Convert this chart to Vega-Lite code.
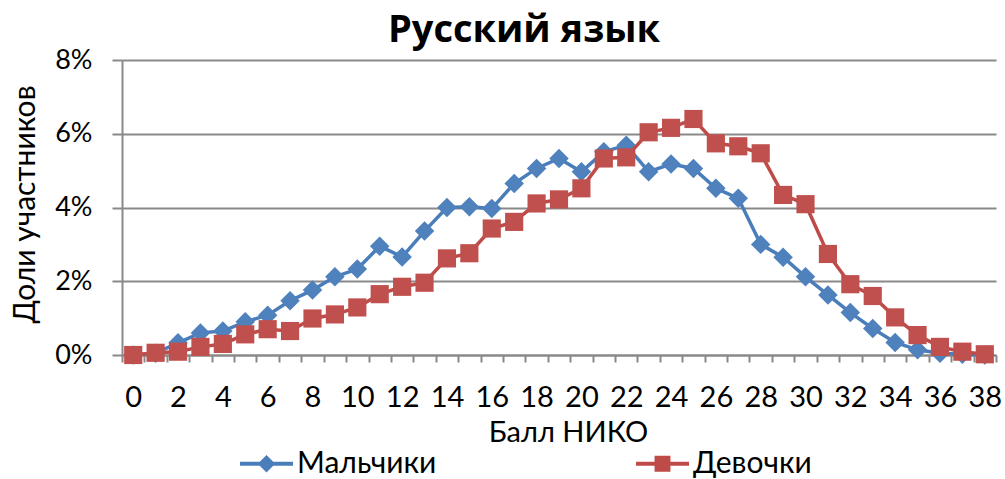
{
  "$schema": "https://vega.github.io/schema/vega-lite/v6.json",
  "width": 874,
  "height": 295,
  "autosize": "none",
  "padding": {"left": 122, "top": 60, "right": 9, "bottom": 124},
  "background": "white",
  "config": {
    "font": "Lato",
    "view": {"stroke": null}
  },
  "title": {
    "text": "Русский язык",
    "font": "Open Sans",
    "fontSize": 38,
    "fontWeight": "bold",
    "color": "black",
    "anchor": "middle",
    "frame": "group",
    "dx": -35,
    "dy": 39,
    "baseline": "alphabetic",
    "offset": 5
  },
  "datasets": {
    "main": [
      {"score": 0, "group": "Мальчики", "value": 0},
      {"score": 1, "group": "Мальчики", "value": 0.05},
      {"score": 2, "group": "Мальчики", "value": 0.33},
      {"score": 3, "group": "Мальчики", "value": 0.6},
      {"score": 4, "group": "Мальчики", "value": 0.65},
      {"score": 5, "group": "Мальчики", "value": 0.9},
      {"score": 6, "group": "Мальчики", "value": 1.08},
      {"score": 7, "group": "Мальчики", "value": 1.47},
      {"score": 8, "group": "Мальчики", "value": 1.76},
      {"score": 9, "group": "Мальчики", "value": 2.12},
      {"score": 10, "group": "Мальчики", "value": 2.33},
      {"score": 11, "group": "Мальчики", "value": 2.95},
      {"score": 12, "group": "Мальчики", "value": 2.66},
      {"score": 13, "group": "Мальчики", "value": 3.36},
      {"score": 14, "group": "Мальчики", "value": 4.0},
      {"score": 15, "group": "Мальчики", "value": 4.02},
      {"score": 16, "group": "Мальчики", "value": 3.97},
      {"score": 17, "group": "Мальчики", "value": 4.65},
      {"score": 18, "group": "Мальчики", "value": 5.06},
      {"score": 19, "group": "Мальчики", "value": 5.33},
      {"score": 20, "group": "Мальчики", "value": 4.97},
      {"score": 21, "group": "Мальчики", "value": 5.51},
      {"score": 22, "group": "Мальчики", "value": 5.69},
      {"score": 23, "group": "Мальчики", "value": 4.97},
      {"score": 24, "group": "Мальчики", "value": 5.18},
      {"score": 25, "group": "Мальчики", "value": 5.06},
      {"score": 26, "group": "Мальчики", "value": 4.52},
      {"score": 27, "group": "Мальчики", "value": 4.25},
      {"score": 28, "group": "Мальчики", "value": 3.0},
      {"score": 29, "group": "Мальчики", "value": 2.65},
      {"score": 30, "group": "Мальчики", "value": 2.12},
      {"score": 31, "group": "Мальчики", "value": 1.63},
      {"score": 32, "group": "Мальчики", "value": 1.15},
      {"score": 33, "group": "Мальчики", "value": 0.72},
      {"score": 34, "group": "Мальчики", "value": 0.34},
      {"score": 35, "group": "Мальчики", "value": 0.14},
      {"score": 36, "group": "Мальчики", "value": 0.05},
      {"score": 37, "group": "Мальчики", "value": 0.02},
      {"score": 38, "group": "Мальчики", "value": 0},
      {"score": 0, "group": "Девочки", "value": 0},
      {"score": 1, "group": "Девочки", "value": 0.06},
      {"score": 2, "group": "Девочки", "value": 0.09},
      {"score": 3, "group": "Девочки", "value": 0.22},
      {"score": 4, "group": "Девочки", "value": 0.3},
      {"score": 5, "group": "Девочки", "value": 0.56},
      {"score": 6, "group": "Девочки", "value": 0.7},
      {"score": 7, "group": "Девочки", "value": 0.65},
      {"score": 8, "group": "Девочки", "value": 0.99},
      {"score": 9, "group": "Девочки", "value": 1.1},
      {"score": 10, "group": "Девочки", "value": 1.29},
      {"score": 11, "group": "Девочки", "value": 1.65},
      {"score": 12, "group": "Девочки", "value": 1.85},
      {"score": 13, "group": "Девочки", "value": 1.96},
      {"score": 14, "group": "Девочки", "value": 2.62},
      {"score": 15, "group": "Девочки", "value": 2.76},
      {"score": 16, "group": "Девочки", "value": 3.43},
      {"score": 17, "group": "Девочки", "value": 3.61},
      {"score": 18, "group": "Девочки", "value": 4.11},
      {"score": 19, "group": "Девочки", "value": 4.22},
      {"score": 20, "group": "Девочки", "value": 4.52},
      {"score": 21, "group": "Девочки", "value": 5.33},
      {"score": 22, "group": "Девочки", "value": 5.36},
      {"score": 23, "group": "Девочки", "value": 6.04},
      {"score": 24, "group": "Девочки", "value": 6.16},
      {"score": 25, "group": "Девочки", "value": 6.4},
      {"score": 26, "group": "Девочки", "value": 5.74},
      {"score": 27, "group": "Девочки", "value": 5.66},
      {"score": 28, "group": "Девочки", "value": 5.47},
      {"score": 29, "group": "Девочки", "value": 4.34},
      {"score": 30, "group": "Девочки", "value": 4.09},
      {"score": 31, "group": "Девочки", "value": 2.74},
      {"score": 32, "group": "Девочки", "value": 1.92},
      {"score": 33, "group": "Девочки", "value": 1.6},
      {"score": 34, "group": "Девочки", "value": 1.02},
      {"score": 35, "group": "Девочки", "value": 0.54},
      {"score": 36, "group": "Девочки", "value": 0.22},
      {"score": 37, "group": "Девочки", "value": 0.09},
      {"score": 38, "group": "Девочки", "value": 0.02}
    ]
  },
  "data": {"name": "main"},
  "encoding": {
    "x": {
      "field": "score",
      "type": "ordinal",
      "sort": "ascending",
      "scale": {"type": "band", "paddingInner": 0, "paddingOuter": 0},
      "axis": {
        "title": "Балл НИКО",
        "titleFontSize": 29,
        "titleFontWeight": "normal",
        "titleColor": "black",
        "titlePadding": 6,
        "titleX": 446,
        "titleAlign": "center",
        "labelAngle": 0,
        "labelFontSize": 29,
        "labelColor": "black",
        "labelPadding": 21,
        "labelOverlap": false,
        "labelExpr": "datum.value % 2 == 0 ? datum.label : ''",
        "tickBand": "extent",
        "tickSize": 7,
        "tickWidth": 2,
        "tickColor": "#898989",
        "domainColor": "#898989",
        "domainWidth": 2,
        "grid": false
      }
    },
    "y": {
      "field": "value",
      "type": "quantitative",
      "scale": {"domain": [0, 8], "nice": false},
      "axis": {
        "title": "Доли участников",
        "titleFontSize": 30,
        "titleFontWeight": "normal",
        "titleColor": "black",
        "titlePadding": 14,
        "titleY": 144,
        "values": [0, 2, 4, 6, 8],
        "labelExpr": "datum.value + '%'",
        "labelFontSize": 27,
        "labelColor": "black",
        "labelPadding": 20,
        "tickSize": 10,
        "tickWidth": 2,
        "tickColor": "#898989",
        "domainColor": "#898989",
        "domainWidth": 2,
        "grid": true,
        "gridColor": "#898989",
        "gridWidth": 2
      }
    },
    "color": {
      "field": "group",
      "type": "nominal",
      "scale": {"domain": ["Мальчики", "Девочки"], "range": ["#4A7EBB", "#BE4B48"]},
      "legend": {
        "title": null,
        "orient": "none",
        "direction": "horizontal",
        "legendX": 118,
        "legendY": 377,
        "labelFontSize": 30,
        "labelColor": "black",
        "labelOffset": 4,
        "symbolSize": 2809,
        "columnPadding": 199,
        "encoding": {
          "symbols": {
            "shape": {
              "condition": {"test": "datum.value === 'Мальчики'", "value": "M-1,-0.075H1V0.075H-1Z M0,-0.33L0.33,0L0,0.33L-0.33,0Z"},
              "value": "M-1,-0.075H1V0.075H-1Z M-0.3,-0.3H0.3V0.3H-0.3Z"
            },
            "fill": {
              "condition": {"test": "datum.value === 'Мальчики'", "value": "#4A7EBB"},
              "value": "#BE4B48"
            },
            "stroke": {"value": "transparent"},
            "strokeWidth": {"value": 0},
            "opacity": {"value": 1}
          }
        }
      }
    }
  },
  "layer": [
    {
      "transform": [{"filter": "datum.group === 'Мальчики'"}],
      "mark": {"type": "line", "strokeWidth": 3.5}
    },
    {
      "transform": [{"filter": "datum.group === 'Мальчики'"}],
      "mark": {"type": "point", "shape": "diamond", "filled": true, "size": 380, "opacity": 1, "fill": "#4F81BD"}
    },
    {
      "transform": [{"filter": "datum.group === 'Девочки'"}],
      "mark": {"type": "line", "strokeWidth": 3.5}
    },
    {
      "transform": [{"filter": "datum.group === 'Девочки'"}],
      "mark": {"type": "point", "shape": "square", "filled": true, "size": 330, "opacity": 1, "fill": "#C0504D"}
    }
  ]
}
